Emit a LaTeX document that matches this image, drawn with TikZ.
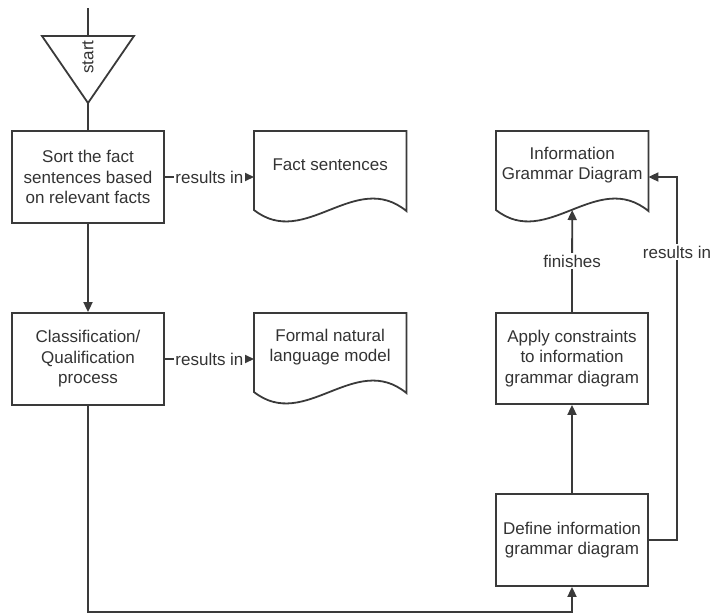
\documentclass[tikz,border=0pt]{standalone}
\usepackage{fontspec}
\setmainfont{Liberation Sans}
\usetikzlibrary{arrows.meta,calc}

\definecolor{ink}{HTML}{3A3A3A}
\definecolor{txt}{HTML}{333333}

\tikzset{
  every node/.style={font=\fontsize{17}{20.5}\selectfont, text=txt},
  edge/.style={draw=ink, line width=1.8pt},
  conn/.style={edge, -{Triangle[length=10pt,width=9pt]}},
  plain/.style={edge},
  procbox/.style={edge, rectangle, align=center, inner sep=0pt,
                  minimum width=152pt},
  doctext/.style={rectangle, align=center, inner sep=0pt, anchor=north west,
                  minimum width=152pt, minimum height=68pt},
  lbl/.style={fill=white, inner sep=1.5pt},
}

% document shape: flat top, straight sides, wavy bottom edge
\newcommand{\docoutline}[1]{%
  \draw[edge, line join=miter]
    (#1.north west) -- (#1.north east) -- ($(#1.north east)+(0,80)$)
    .. controls ($(#1.north west)+(101,38)$) and ($(#1.north west)+(51,119)$)
    .. ($(#1.north west)+(0,79)$) -- cycle;}

\begin{document}
\begin{tikzpicture}[x=1pt, y=-1pt]
\useasboundingbox (0,0) rectangle (710,614);

% start marker (inverted triangle)
\coordinate (entry) at (88,8);
\coordinate (tl) at (42,36);
\coordinate (tr) at (134,36);
\coordinate (tm) at (88,36);
\coordinate (tap) at (88,103);
\draw[edge, line join=miter] (tl) -- (tr) -- (tap) -- cycle;
\node[rotate=90] (start) at (88,57) {start};

% process steps
\node[procbox, minimum height=92pt] (sort) at (88,177)
  {Sort the fact\\sentences based\\on relevant facts};
\node[procbox, minimum height=92pt] (classif) at (88,359)
  {Classification/\\Qualification\\process};
\node[procbox, minimum height=91pt] (apply) at (572,358.5)
  {Apply constraints\\to information\\grammar diagram};
\node[procbox, minimum height=92pt] (define) at (572,540)
  {Define information\\grammar diagram};

% documents
\node[doctext] (facts) at (254,131) {Fact sentences};
\docoutline{facts}
\node[doctext] (fnlm) at (254,313) {Formal natural\\language model};
\docoutline{fnlm}
\node[doctext] (igd) at (496,131) {Information\\Grammar Diagram};
\docoutline{igd}

\coordinate (igdwave) at ($(igd.north)+(0,79)$);
\coordinate (igdside) at ($(igd.north east)+(0,46)$);
\coordinate (bendR) at (677,177);
\coordinate (downL) at (88,612);
\coordinate (downR) at (572,612);

% connectors
\draw[plain] (entry) -- (tm);
\draw[plain] (tap) -- (sort.north);
\draw[conn] (sort.south) -- (classif.north);
\draw[conn] (sort.east) -- node[lbl]{results in} (facts.west |- sort.east);
\draw[conn] (classif.east) -- node[lbl]{results in} (fnlm.west |- classif.east);
\draw[conn] (classif.south) -- (downL) -- (downR) -- (define.south);
\draw[conn] (define.north) -- (apply.south);
\draw[conn] (apply.north) -- node[lbl]{finishes} (igdwave);
\draw[conn] (define.east) -- (define.east -| bendR)
  -- node[lbl, pos=0.793]{results in} (bendR) -- (igdside);

\end{tikzpicture}
\end{document}
